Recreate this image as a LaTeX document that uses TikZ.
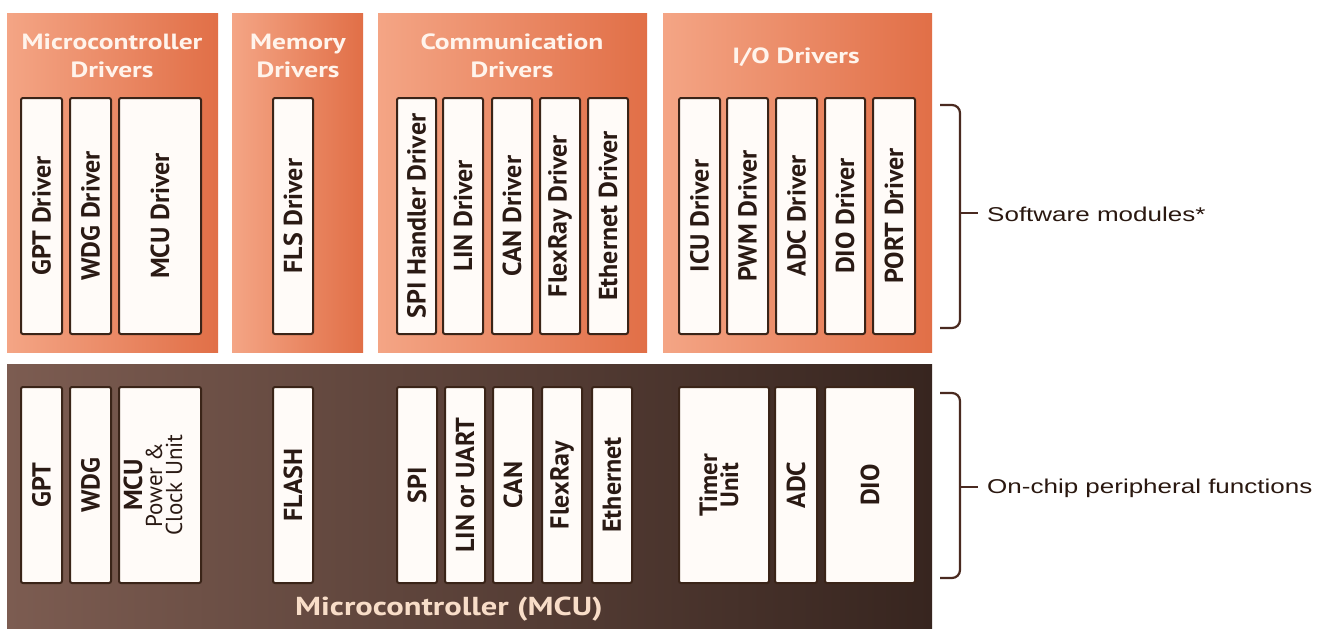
\documentclass[tikz,border=0pt]{standalone}
\usepackage{fontspec}
\setmainfont{PT Sans}
\newfontfamily\titlefont[FakeStretch=1.25]{PT Sans}
\newfontfamily\boxfont{PT Sans}
\newfontfamily\labelfont[FakeStretch=1.3]{Liberation Sans}
\definecolor{orL}{HTML}{F4A585}
\definecolor{orR}{HTML}{E16F47}
\definecolor{brL}{HTML}{7C5C51}
\definecolor{brR}{HTML}{37251F}
\definecolor{boxline}{HTML}{3A2418}
\definecolor{boxfill}{HTML}{FFFBF8}
\definecolor{boxtext}{HTML}{2A1A14}
\definecolor{titletext}{HTML}{FFF4EC}
\definecolor{mcutext}{HTML}{F8DDC8}
\definecolor{bracecol}{HTML}{4A2A20}
\definecolor{labeltext}{HTML}{2A1810}
\tikzset{
  panel/.style={left color=orL, right color=orR, draw=none},
  mcupanel/.style={left color=brL, right color=brR, draw=none},
  ibox/.style={draw=boxline, fill=boxfill, line width=2pt, rounded corners=2pt,
    inner sep=0pt, rotate=90, text=boxtext,
    font=\boxfont\bfseries\fontsize{26}{26}\selectfont, align=center},
  ptitle/.style={text=titletext, font=\titlefont\bfseries\fontsize{22}{28}\selectfont,
    align=center, inner sep=0pt},
  brace/.style={draw=bracecol, line width=2.2pt, rounded corners=8pt},
  lbl/.style={text=labeltext, font=\labelfont\fontsize{20}{24}\selectfont, inner sep=0pt, anchor=west}
}
\begin{document}
\begin{tikzpicture}[x=1pt,y=-1pt]
\useasboundingbox (0,0) rectangle (1331,630);
\fill[white] (0,0) rectangle (1331,630);
% panels
\shade[panel] (7,13) rectangle (218,352);
\shade[panel] (232,13) rectangle (363,352);
\shade[panel] (378,13) rectangle (647,352);
\shade[panel] (663,13) rectangle (932,352);
\shade[mcupanel] (7,364) rectangle (932,628);
% titles
\node[ptitle] (t1) at (112,56) {Microcontroller\\Drivers};
\node[ptitle] (t2) at (298,56) {Memory\\Drivers};
\node[ptitle] (t3) at (512,56) {Communication\\Drivers};
\node[ptitle] (t4) at (796,57) {I/O Drivers};
\node[ptitle, text=mcutext, font=\titlefont\bfseries\fontsize{26}{28}\selectfont] (tm) at (449,609) {Microcontroller (MCU)};
% top boxes
\node[ibox, minimum width=236pt, minimum height=41pt] (gptd) at (41.5,216) {GPT Driver};
\node[ibox, minimum width=236pt, minimum height=41pt] (wdgd) at (90.5,216) {WDG Driver};
\node[ibox, minimum width=236pt, minimum height=82pt] (mcud) at (160,216) {MCU Driver};
\node[ibox, minimum width=236pt, minimum height=40pt] (flsd) at (293,216) {FLS Driver};
\node[ibox, minimum width=236pt, minimum height=39pt] (spid) at (416.5,216) {SPI Handler Driver};
\node[ibox, minimum width=236pt, minimum height=40pt] (lind) at (463,216) {LIN Driver};
\node[ibox, minimum width=236pt, minimum height=40pt] (cand) at (512,216) {CAN Driver};
\node[ibox, minimum width=236pt, minimum height=40pt] (frd) at (560,216) {FlexRay Driver};
\node[ibox, minimum width=236pt, minimum height=40pt] (ethd) at (608,216) {Ethernet Driver};
\node[ibox, minimum width=236pt, minimum height=41pt] (icud) at (699.5,216) {ICU Driver};
\node[ibox, minimum width=236pt, minimum height=41pt] (pwmd) at (747.5,216) {PWM Driver};
\node[ibox, minimum width=236pt, minimum height=41pt] (adcd) at (796.5,216) {ADC Driver};
\node[ibox, minimum width=236pt, minimum height=40pt] (diod) at (845,216) {DIO Driver};
\node[ibox, minimum width=236pt, minimum height=42pt] (portd) at (894,216) {PORT Driver};
% bottom boxes
\node[ibox, minimum width=196pt, minimum height=41pt] (gpt) at (41.5,485) {GPT};
\node[ibox, minimum width=196pt, minimum height=41pt] (wdg) at (90.5,485) {WDG};
\node[ibox, minimum width=196pt, minimum height=82pt] (mcupc) at (160,485) {};
\node[rotate=90, text=boxtext, align=center, inner sep=0pt,
  font=\boxfont\bfseries\fontsize{26}{20}\selectfont] (mcupctext) at (153,485)
  {MCU\\ \mdseries\fontsize{23}{18}\selectfont Power \&\\ \mdseries\fontsize{23}{18}\selectfont Clock Unit};
\node[ibox, minimum width=196pt, minimum height=40pt] (flash) at (293,485) {FLASH};
\node[ibox, minimum width=196pt, minimum height=40pt] (spi) at (417,485) {SPI};
\node[ibox, minimum width=196pt, minimum height=40pt] (lin) at (465,485) {LIN or UART};
\node[ibox, minimum width=196pt, minimum height=40pt] (can) at (513,485) {CAN};
\node[ibox, minimum width=196pt, minimum height=40pt] (fr) at (562,485) {FlexRay};
\node[ibox, minimum width=196pt, minimum height=40pt] (eth) at (612,485) {Ethernet};
\node[ibox, minimum width=196pt, minimum height=90pt] (timer) at (724,485) {};
\node[rotate=90, text=boxtext, align=center, inner sep=0pt,
  font=\boxfont\bfseries\fontsize{25}{21}\selectfont] (timertext) at (719,485) {Timer\\Unit};
\node[ibox, minimum width=196pt, minimum height=42pt] (adc) at (796,485) {ADC};
\node[ibox, minimum width=196pt, minimum height=90pt] (dio) at (870,485) {DIO};
% braces
\draw[brace] (940,105) -- (960,105) -- (960,328) -- (940,328);
\draw[draw=bracecol, line width=2.2pt] (960,213) -- (978,213);
\draw[brace] (940,393) -- (960,393) -- (960,578) -- (940,578);
\draw[draw=bracecol, line width=2.2pt] (960,487) -- (978,487);
\node[lbl] (sw) at (987,214) {Software modules*};
\node[lbl] (onchip) at (987,488) {On-chip peripheral functions};
\end{tikzpicture}
\end{document}
